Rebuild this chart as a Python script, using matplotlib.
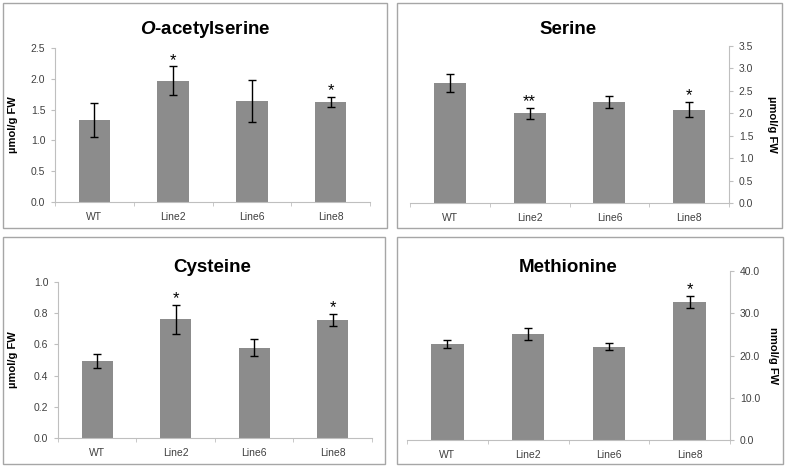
import matplotlib.pyplot as plt
from matplotlib.patches import Rectangle

plt.rcParams['font.family'] = ['Liberation Sans', 'DejaVu Sans']
plt.rcParams['mathtext.fontset'] = 'custom'
plt.rcParams['mathtext.rm'] = 'Liberation Sans:bold'
plt.rcParams['mathtext.bf'] = 'Liberation Sans:bold'
plt.rcParams['mathtext.bfit'] = 'Liberation Sans:italic:bold'

lines = ['WT', 'Line2', 'Line6', 'Line8']

oas_mean = [1.33, 1.97, 1.64, 1.63]
oas_err = [0.27, 0.23, 0.34, 0.08]
oas_sig = ['', '*', '', '*']

ser_mean = [2.67, 2.00, 2.25, 2.08]
ser_err = [0.20, 0.125, 0.125, 0.17]
ser_sig = ['', '**', '', '*']

cys_mean = [0.495, 0.76, 0.578, 0.757]
cys_err = [0.045, 0.095, 0.054, 0.038]
cys_sig = ['', '*', '', '*']

met_mean = [22.7, 25.1, 22.1, 32.7]
met_err = [1.0, 1.4, 0.8, 1.5]
met_sig = ['', '', '', '*']

W, H = 787, 468
fig = plt.figure(figsize=(W / 100, H / 100), dpi=100)

axis_col = '#BFBFBF'
text_col = '#404040'
bar_col = '#8C8C8C'


def px_axes(x0, x1, ybot, ytop):
    return fig.add_axes([x0 / W, (H - ybot) / H, (x1 - x0) / W, (ybot - ytop) / H])


def panel(box, axbox, means, errs, sig, ymax, step, title, title_xy, ylabel, ylab_x, right, fmt):
    bx0, by0, bx1, by1 = box
    fig.patches.append(Rectangle((bx0 / W, (H - by1) / H), (bx1 - bx0) / W, (by1 - by0) / H,
                                 transform=fig.transFigure, fill=False, edgecolor='#A6A6A6', lw=1))
    ax = px_axes(*axbox)
    x = range(len(lines))
    ax.bar(x, means, width=0.4, color=bar_col, zorder=2)
    ax.errorbar(x, means, yerr=errs, fmt='none', ecolor='black', elinewidth=1,
                capsize=3, capthick=1, zorder=3)
    for i in x:
        if sig[i]:
            ax.annotate(sig[i], (i, means[i] + errs[i]), xytext=(0, -1), textcoords='offset points',
                        ha='center', va='bottom', fontsize=12, color='black')
    ax.set_xlim(-0.5, len(lines) - 0.5)
    ax.set_ylim(0, ymax)
    ticks = [step * k for k in range(int(round(ymax / step)) + 1)]
    ax.set_yticks(ticks)
    ax.set_yticklabels([fmt.format(t) for t in ticks])
    ax.set_xticks(list(x))
    ax.set_xticklabels(lines)
    ax.set_xticks([i + 0.5 for i in range(-1, len(lines))], minor=True)
    ax.tick_params(axis='x', which='major', length=0, labelsize=7.5, colors=text_col, pad=7)
    ax.tick_params(axis='x', which='minor', length=3, color=axis_col, direction='out')
    ax.tick_params(axis='y', length=3, color=axis_col, labelsize=7.5, labelcolor=text_col, pad=4)
    for s in ['top', 'left', 'right', 'bottom']:
        ax.spines[s].set_visible(False)
    ax.spines['bottom'].set_visible(True)
    ax.spines['bottom'].set_color(axis_col)
    side = 'right' if right else 'left'
    ax.spines[side].set_visible(True)
    ax.spines[side].set_color(axis_col)
    if right:
        ax.yaxis.tick_right()
    fig.text(title_xy[0] / W, 1 - title_xy[1] / H, title, ha='center', va='center',
             fontsize=13.5, fontweight='bold')
    ycen = (axbox[2] + axbox[3]) / 2
    fig.text(ylab_x / W, 1 - ycen / H, ylabel, ha='center', va='center',
             rotation=-90 if right else 90, fontsize=8, fontweight='bold')
    return ax


panel((3, 3, 387, 228), (55, 370, 202, 48), oas_mean, oas_err, oas_sig, 2.5, 0.5,
      r'$\mathbfit{O}$-acetylserine', (205, 30), 'µmol/g FW', 13, False, '{:.1f}')
panel((397, 3, 782, 228), (410, 729, 203, 46), ser_mean, ser_err, ser_sig, 3.5, 0.5,
      'Serine', (568, 29), 'µmol/g FW', 772, True, '{:.1f}')
panel((3, 237, 385, 464), (58, 372, 438, 282), cys_mean, cys_err, cys_sig, 1.0, 0.2,
      'Cysteine', (212, 267), 'µmol/g FW', 13, False, '{:.1f}')
panel((397, 237, 783, 464), (407, 730, 440, 271), met_mean, met_err, met_sig, 40.0, 10.0,
      'Methionine', (568, 267), 'nmol/g FW', 773, True, '{:.1f}')

fig.savefig('out.png', dpi=100)
